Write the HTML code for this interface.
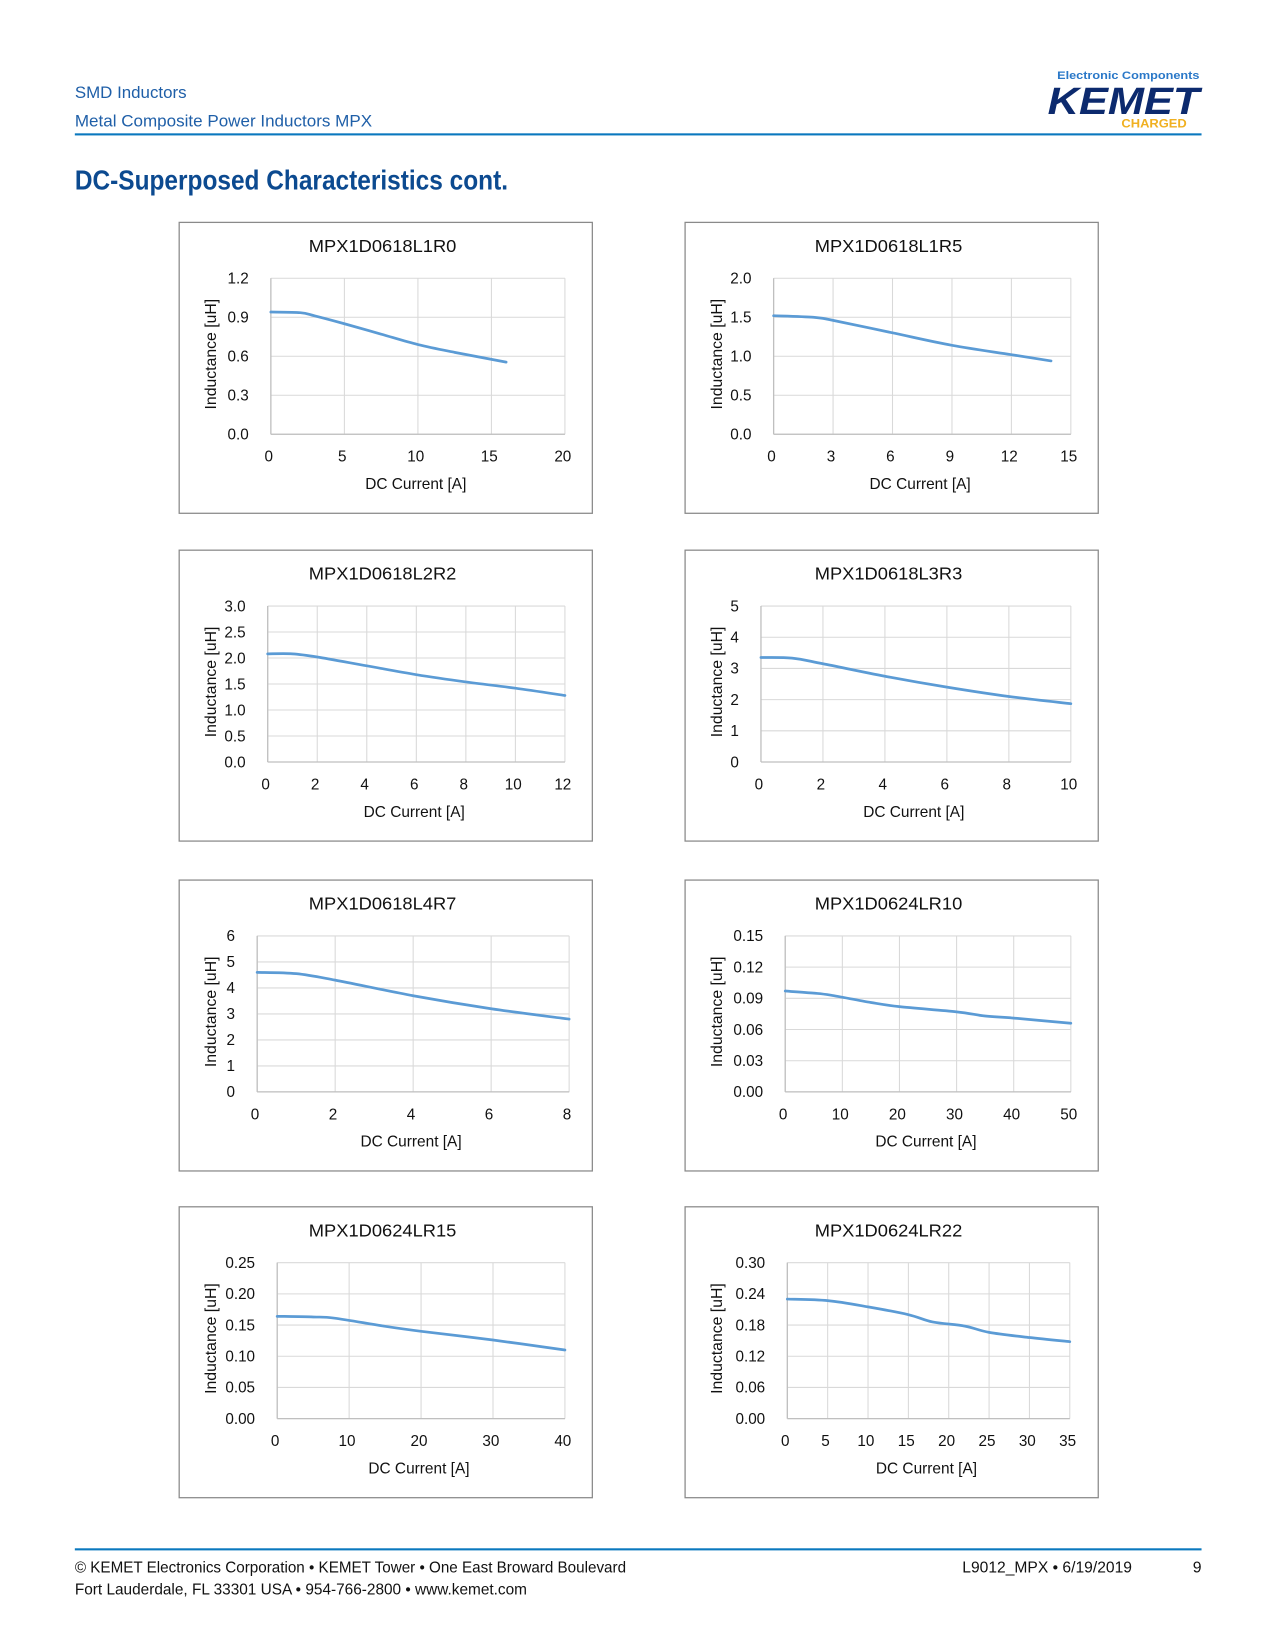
<!DOCTYPE html>
<html><head><meta charset="utf-8">
<style>
html,body{margin:0;padding:0;background:#fff;}
svg{display:block;}
text{font-family:"Liberation Sans Narrow","Liberation Sans",sans-serif;}
</style></head>
<body>
<svg id="page" width="1275" height="1650" viewBox="0 0 1209.7 1565.5" xmlns="http://www.w3.org/2000/svg">
<g>
<text x="71" y="93" font-size="16" fill="#1f5fa8" textLength="106" lengthAdjust="spacingAndGlyphs">SMD Inductors</text>
<text x="71" y="120" font-size="16" fill="#1f5fa8" textLength="282" lengthAdjust="spacingAndGlyphs">Metal Composite Power Inductors MPX</text>
<rect x="71" y="126.5" width="1069" height="2" fill="#0a78be"/>
<text x="1138" y="75" font-size="10.5" font-weight="bold" fill="#2a78c8" text-anchor="end" textLength="135" lengthAdjust="spacingAndGlyphs">Electronic Components</text>
<text x="1138" y="108" font-size="36" font-weight="bold" font-style="italic" fill="#0c2a6e" text-anchor="end" textLength="144" lengthAdjust="spacingAndGlyphs">KEMET</text>
<text x="1126" y="121" font-size="11" font-weight="bold" fill="#f0b020" text-anchor="end" textLength="62" lengthAdjust="spacingAndGlyphs">CHARGED</text>
</g>
<text x="71" y="180" font-size="26" font-weight="bold" fill="#0c4a90" textLength="411" lengthAdjust="spacingAndGlyphs">DC-Superposed Characteristics cont.</text>
<g id="charts"></g>
<g>
<rect x="71" y="1469" width="1069" height="2" fill="#0a78be"/>
<text x="71" y="1492" font-size="15" fill="#111" textLength="523" lengthAdjust="spacingAndGlyphs">© KEMET Electronics Corporation • KEMET Tower • One East Broward Boulevard</text>
<text x="71" y="1513" font-size="15" fill="#111" textLength="429" lengthAdjust="spacingAndGlyphs">Fort Lauderdale, FL 33301 USA • 954-766-2800 • www.kemet.com</text>
<text x="913" y="1492" font-size="15" fill="#111" textLength="161" lengthAdjust="spacingAndGlyphs">L9012_MPX • 6/19/2019</text>
<text x="1140" y="1492" font-size="15" fill="#111" text-anchor="end">9</text>
</g>
</svg>
<script>
// chart data
const titles = ["MPX1D0618L1R0","MPX1D0618L1R5","MPX1D0618L2R2","MPX1D0618L3R3","MPX1D0618L4R7","MPX1D0624LR10","MPX1D0624LR15","MPX1D0624LR22"];
const xTicks1 = [0,5,10,15,20];
const yTicks1 = ["0.0","0.3","0.6","0.9","1.2"];
const cur1 = [0,2,3,5,7.5,10,12.5,16];
const ind1 = [0.94,0.935,0.91,0.85,0.77,0.69,0.63,0.555];
const xTicks2 = [0,3,6,9,12,15];
const yTicks2 = ["0.0","0.5","1.0","1.5","2.0"];
const cur2 = [0,2,3,6,9,12,14];
const ind2 = [1.52,1.5,1.46,1.3,1.14,1.02,0.94];
const xTicks3 = [0,2,4,6,8,10,12];
const yTicks3 = ["0.0","0.5","1.0","1.5","2.0","2.5","3.0"];
const cur3 = [0,1,2,4,6,8,10,12];
const ind3 = [2.08,2.08,2.02,1.85,1.68,1.54,1.42,1.28];
const xTicks4 = [0,2,4,6,8,10];
const yTicks4 = ["0","1","2","3","4","5"];
const cur4 = [0,1,2,4,6,8,10];
const ind4 = [3.35,3.33,3.15,2.75,2.4,2.1,1.87];
const xTicks5 = [0,2,4,6,8];
const yTicks5 = ["0","1","2","3","4","5","6"];
const cur5 = [0,1,2,4,6,8];
const ind5 = [4.6,4.55,4.3,3.7,3.2,2.8];
const xTicks6 = [0,10,20,30,40,50];
const yTicks6 = ["0.00","0.03","0.06","0.09","0.12","0.15"];
const cur6 = [0,5,8,15,20,30,35,40,50];
const ind6 = [0.097,0.095,0.093,0.086,0.082,0.077,0.073,0.071,0.066];
const xTicks7 = [0,10,20,30,40];
const yTicks7 = ["0.00","0.05","0.10","0.15","0.20","0.25"];
const cur7 = [0,5,8,15,20,30,40];
const ind7 = [0.164,0.163,0.161,0.148,0.14,0.126,0.11];
const xTicks8 = [0,5,10,15,20,25,30,35];
const yTicks8 = ["0.00","0.06","0.12","0.18","0.24","0.30"];
const cur8 = [0,5,10,15,18,22,25,30,35];
const ind8 = [0.23,0.227,0.215,0.2,0.186,0.178,0.166,0.156,0.148];

const allX=[xTicks1,xTicks2,xTicks3,xTicks4,xTicks5,xTicks6,xTicks7,xTicks8];
const allY=[yTicks1,yTicks2,yTicks3,yTicks4,yTicks5,yTicks6,yTicks7,yTicks8];
const allC=[cur1,cur2,cur3,cur4,cur5,cur6,cur7,cur8];
const allI=[ind1,ind2,ind3,ind4,ind5,ind6,ind7,ind8];
const boxX=[170,650], boxY=[211,522,835,1145];
const plotLeft=[87,84,84,72,74,95,93,97];
const plotRight=[366,366,366,366,370,366,366,365];
const NS="http://www.w3.org/2000/svg";
const root=document.getElementById('charts');
function mk(tag,attrs,parent){const e=document.createElementNS(NS,tag);for(const k in attrs)e.setAttribute(k,attrs[k]);parent.appendChild(e);return e;}
for(let c=0;c<8;c++){
  const bx=boxX[c%2], by=boxY[Math.floor(c/2)];
  const g=mk('g',{transform:`translate(${bx},${by})`},root);
  
  
  const box=mk('rect',{x:0,y:0,width:392,height:276,fill:'#fff',stroke:'#8a8a8a','stroke-width':1.2},g);
  
  
  const t=mk('text',{x:193,y:28,'font-size':17,'text-anchor':'middle',fill:'#111',textLength:140,lengthAdjust:'spacingAndGlyphs'},g);
  t.textContent=titles[c];
  
  
  const L=plotLeft[c],R=plotRight[c],T=53,B=201;
  const xt=allX[c], yt=allY[c];
  const xmin=xt[0],xmax=xt[xt.length-1];
  const ymin=parseFloat(yt[0]),ymax=parseFloat(yt[yt.length-1]);
  const sx=v=>L+(v-xmin)/(xmax-xmin)*(R-L);
  const sy=v=>B-(v-ymin)/(ymax-ymin)*(B-T);
  xt.forEach(v=>{
    const l=mk('line',{x1:sx(v),x2:sx(v),y1:T,y2:B,stroke:'#d9d9d9','stroke-width':1},g);
    
    
    const tx=mk('text',{x:sx(v)-2,y:B+26,'font-size':14.5,'text-anchor':'middle',fill:'#111'},g);
    tx.textContent=v;
    
    
  });
  yt.forEach(s=>{
    const v=parseFloat(s);
    const l=mk('line',{x1:L,x2:R,y1:sy(v),y2:sy(v),stroke:'#d9d9d9','stroke-width':1},g);
    
    
    const ty=mk('text',{x:L-21,y:sy(v)+5,'font-size':14.5,'text-anchor':'end',fill:'#111'},g);
    ty.textContent=s;
    
    
  });
  const ax=mk('line',{x1:L,x2:R,y1:B,y2:B,stroke:'#bfbfbf','stroke-width':1.2},g);
  
  
  const ay=mk('line',{x1:L,x2:L,y1:T,y2:B,stroke:'#bfbfbf','stroke-width':1.2},g);
  
  
  const xtl=mk('text',{x:(L+R)/2-2,y:B+52,'font-size':15,'text-anchor':'middle',fill:'#111',textLength:96,lengthAdjust:'spacingAndGlyphs'},g);
  xtl.textContent='DC Current [A]';
  
  
  const ytl=mk('text',{x:0,y:0,'font-size':15,'text-anchor':'middle',fill:'#111',textLength:105,lengthAdjust:'spacingAndGlyphs',transform:`translate(35,${(T+B)/2-2}) rotate(-90)`},g);
  ytl.textContent='Inductance [uH]';
  
  
  const xs=allC[c], ys=allI[c];
  const P=xs.map((x,i)=>[sx(x),sy(ys[i])]);
  let d='M'+P[0][0]+','+P[0][1];
  for(let i=0;i<P.length-1;i++){
    const p0=P[i-1]||P[i],p1=P[i],p2=P[i+1],p3=P[i+2]||P[i+1];
    const c1=[p1[0]+(p2[0]-p0[0])/6,p1[1]+(p2[1]-p0[1])/6];
    const c2=[p2[0]-(p3[0]-p1[0])/6,p2[1]-(p3[1]-p1[1])/6];
    d+=` C${c1[0]},${c1[1]} ${c2[0]},${c2[1]} ${p2[0]},${p2[1]}`;
  }
  const path=mk('path',{d:d,fill:'none',stroke:'#5b9bd5','stroke-width':2.6,'stroke-linecap':'round'},g);
  
  
}
</script>
</body></html>
